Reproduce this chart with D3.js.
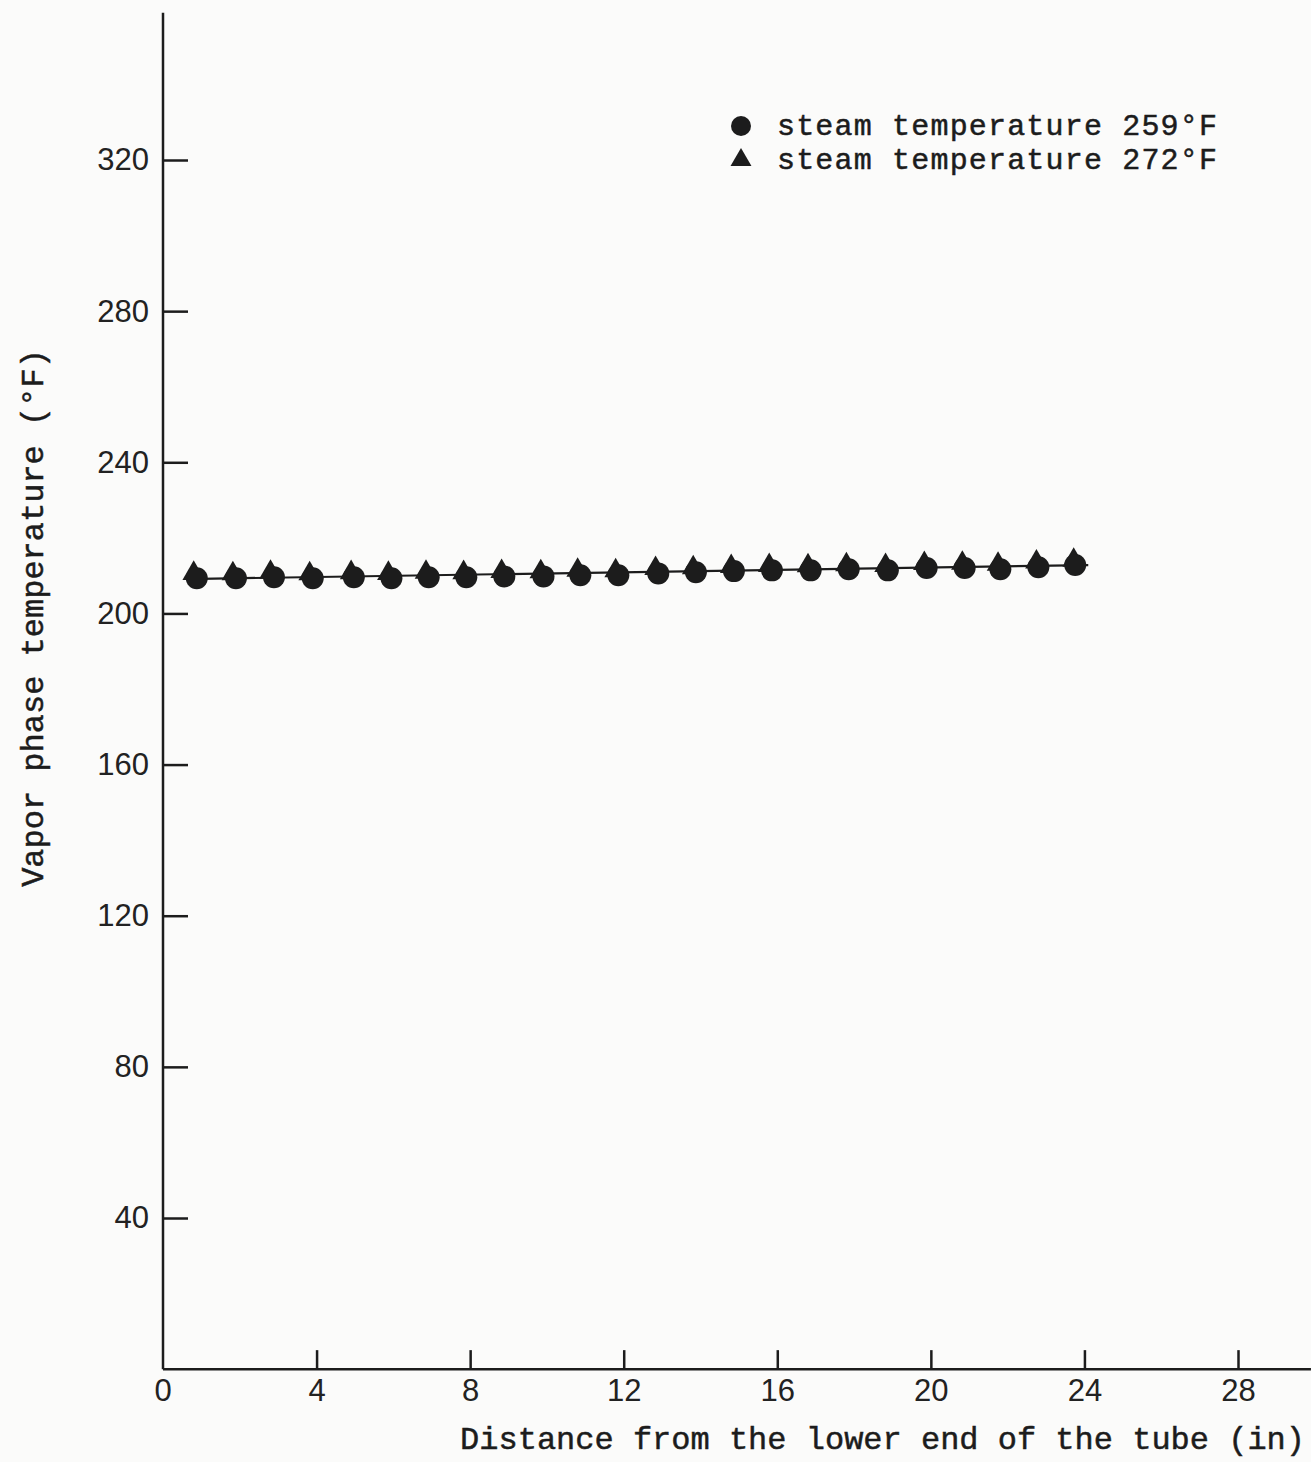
<!DOCTYPE html>
<html>
<head>
<meta charset="utf-8">
<script src="https://cdn.jsdelivr.net/npm/d3@7"></script>
<style>
  body { margin: 0; background: #fbfbfa; }
  svg { display: block; }
  .tick text { font-family: "Liberation Sans", Arial, sans-serif; font-size: 31px; fill: #222; }
  .typed { font-family: "Liberation Mono", "Courier New", monospace; font-size: 32px; fill: #1c1c1c; stroke: #1c1c1c; stroke-width: 0.5px; }
  .legend-text { font-size: 30px; }
</style>
</head>
<body>
<svg id="Viz"></svg>
<script>
// distance from lower end of tube (in)
let distances = [0.88, 1.9, 2.89, 3.9, 4.97, 5.95, 6.92, 7.9, 8.89, 9.91, 10.87, 11.86,
                 12.9, 13.88, 14.87, 15.86, 16.87, 17.86, 18.88, 19.89, 20.88, 21.81, 22.8, 23.76];
let triDistances = [0.8, 1.82, 2.8, 3.82, 4.9, 5.87, 6.85, 7.83, 8.82, 9.84, 10.8, 11.79,
                    12.83, 13.81, 14.8, 15.79, 16.8, 17.8, 18.82, 19.83, 20.82, 21.75, 22.75, 23.72];
// steam temperature 259 F (circles)
let temps259 = [209.3, 209.3, 209.6, 209.3, 209.6, 209.3, 209.6, 209.6, 209.8, 209.8, 210.1, 210.1,
                210.6, 210.9, 211.2, 211.4, 211.4, 211.7, 211.4, 212.0, 212.0, 211.7, 212.2, 212.8];
// steam temperature 272 F (triangles)
let temps272 = [210.6, 210.5, 210.9, 210.5, 210.8, 210.6, 210.9, 210.8, 211.1, 211.0, 211.4, 211.3,
                211.9, 212.1, 212.4, 212.7, 212.6, 212.9, 212.7, 213.2, 213.3, 213.0, 213.6, 214.1];
// straight line drawn through the points
let fitX = [0.6, 24.1];
let fitT = [209.1, 212.8];

let xTicks = [4, 8, 12, 16, 20, 24, 28];
let yTicks = [40, 80, 120, 160, 200, 240, 280, 320];
let legendLabels = ["steam temperature 259°F", "steam temperature 272°F"];
let xTitle = "Distance from the lower end of the tube (in)";
let yTitle = "Vapor phase temperature (°F)";

let Width = 1311, Height = 1462;
let ink = "#1c1c1c";

let vizArea = d3.select('#Viz')
  .attr("width", Width)
  .attr("height", Height);

let xScale = d3.scaleLinear().domain([0, 28]).range([163, 1238]);
let yScale = d3.scaleLinear().domain([40, 320]).range([1218, 160]);

// x axis (ticks point up into the plot)
let xAxis = vizArea.append('g')
  .attr("transform", "translate(0," + yScale(0) + ")")
  .call(d3.axisBottom(xScale).tickValues(xTicks).tickSize(-19).tickPadding(10).tickSizeOuter(0));
xAxis.select(".domain").remove();
xAxis.append("line")
  .attr("x1", xScale(0)).attr("x2", xScale(29.9))
  .attr("stroke", ink).attr("stroke-width", 2.5);
xAxis.selectAll(".tick line").attr("stroke", ink).attr("stroke-width", 2.5);
xAxis.append("g").attr("class", "tick")
  .append("text")
  .attr("x", xScale(0)).attr("y", 10).attr("dy", "0.71em")
  .attr("text-anchor", "middle")
  .text("0");

// y axis (ticks point right into the plot)
let yAxis = vizArea.append('g')
  .attr("transform", "translate(" + xScale(0) + ",0)")
  .call(d3.axisRight(yScale).tickValues(yTicks).tickSize(25).tickSizeOuter(0));
yAxis.select(".domain").remove();
yAxis.append("line")
  .attr("y1", yScale(0)).attr("y2", yScale(359))
  .attr("stroke", ink).attr("stroke-width", 2.5);
yAxis.selectAll(".tick line").attr("stroke", ink).attr("stroke-width", 2.5);
yAxis.selectAll(".tick text")
  .attr("x", -14)
  .attr("text-anchor", "end");

// fitted line
let drawline = d3.line()
  .x(function(d){ return xScale(d[0]); })
  .y(function(d){ return yScale(d[1]); });
vizArea.append("path")
  .datum(d3.zip(fitX, fitT))
  .attr("fill", "none")
  .attr("stroke", ink)
  .attr("stroke-width", 2.2)
  .attr("d", drawline);

// triangles
let tri = d3.symbol().type(d3.symbolTriangle).size(220);
vizArea.selectAll(".tri")
  .data(d3.zip(triDistances, temps272))
  .enter()
  .append("path")
  .attr("class", "tri")
  .attr("transform", function(d){ return "translate(" + xScale(d[0]) + "," + yScale(d[1]) + ")"; })
  .attr("d", tri)
  .attr("fill", ink);

// circles
vizArea.selectAll(".dot")
  .data(d3.zip(distances, temps259))
  .enter()
  .append("circle")
  .attr("class", "dot")
  .attr("cx", function(d){ return xScale(d[0]); })
  .attr("cy", function(d){ return yScale(d[1]); })
  .attr("r", 11)
  .attr("fill", ink);

// legend
let legend = vizArea.append("g");
legend.append("circle")
  .attr("cx", 741).attr("cy", 126).attr("r", 10)
  .attr("fill", ink);
legend.append("path")
  .attr("transform", "translate(741,160)")
  .attr("d", d3.symbol().type(d3.symbolTriangle).size(190))
  .attr("fill", ink);
legend.selectAll(".lt")
  .data(legendLabels)
  .enter()
  .append("text")
  .attr("class", "typed legend-text")
  .attr("x", 777)
  .attr("y", function(d, i){ return 135 + i * 34; })
  .attr("textLength", 440)
  .text(function(d){ return d; });

// axis titles
vizArea.append("text")
  .attr("class", "typed")
  .attr("x", 1305).attr("y", 1449)
  .attr("text-anchor", "end")
  .text(xTitle);
vizArea.append("text")
  .attr("class", "typed")
  .attr("transform", "translate(43,618) rotate(-90)")
  .attr("text-anchor", "middle")
  .text(yTitle);
</script>
</body>
</html>
